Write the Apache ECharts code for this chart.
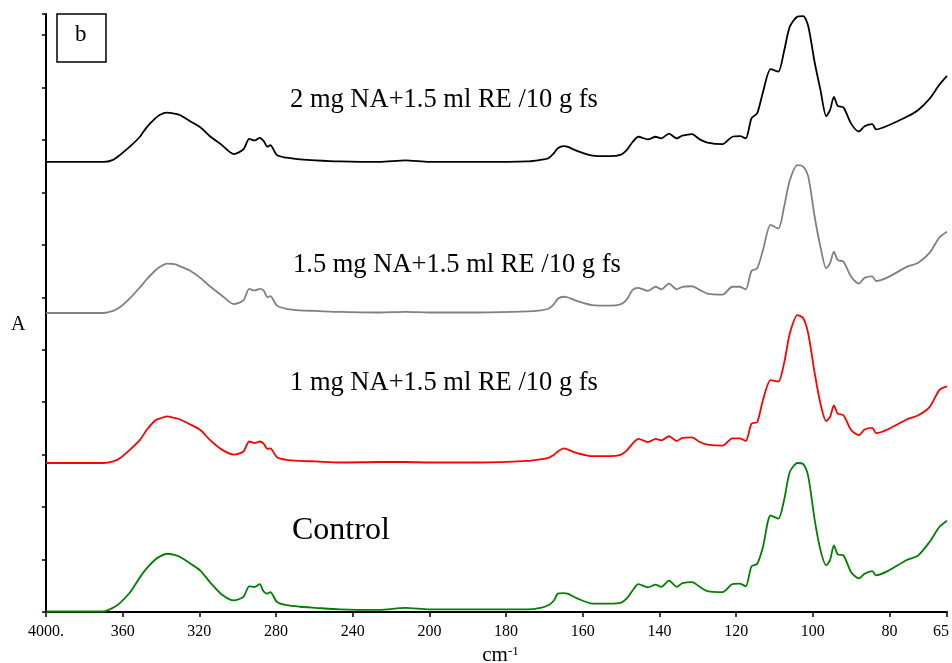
<!DOCTYPE html>
<html>
<head>
<meta charset="utf-8">
<title>FTIR b</title>
<script src="https://cdn.jsdelivr.net/npm/echarts@6/dist/echarts.min.js"></script>
<style>
	html, body { margin: 0; padding: 0; background: #fff; }
	#chart { width: 952px; height: 663px; }
</style>
</head>
<body>
<div id="chart"></div>
<script>
	// wavenumbers (cm-1), shared by all four spectra
	var wavenumbers = [4000, 3700, 3650, 3615, 3560, 3510, 3475, 3430, 3405, 3370,
		3330, 3300, 3250, 3195, 3145, 3085, 3020, 2970, 2940, 2910,
		2885, 2865, 2845, 2830, 2795, 2745, 2675, 2595, 2465, 2260,
		2125, 2000, 1870, 1745, 1710, 1690, 1675, 1665, 1650, 1640,
		1615, 1575, 1530, 1500, 1485, 1470, 1455, 1430, 1410, 1395,
		1375, 1355, 1340, 1315, 1295, 1275, 1235, 1210, 1190, 1175,
		1160, 1145, 1130, 1110, 1090, 1075, 1060, 1040, 1025, 1012,
		995, 980, 965, 955, 945, 935, 920, 900, 880, 865,
		845, 835, 805, 755, 725, 695, 670, 650];

	// 2 mg NA+1.5 ml RE /10 g fs (black)
	var abs2mg = [0.858, 0.858, 0.862, 0.871, 0.888, 0.906, 0.924, 0.941, 0.948, 0.952,
		0.950, 0.947, 0.936, 0.924, 0.907, 0.891, 0.873, 0.882, 0.902, 0.899,
		0.904, 0.898, 0.887, 0.890, 0.871, 0.866, 0.863, 0.861, 0.859, 0.858,
		0.861, 0.858, 0.858, 0.859, 0.862, 0.865, 0.875, 0.884, 0.888, 0.887,
		0.879, 0.870, 0.869, 0.872, 0.881, 0.896, 0.906, 0.901, 0.906, 0.903,
		0.912, 0.903, 0.908, 0.911, 0.901, 0.895, 0.892, 0.906, 0.907, 0.903,
		0.941, 0.951, 0.991, 1.035, 1.030, 1.069, 1.116, 1.135, 1.136, 1.117,
		1.047, 0.995, 0.945, 0.957, 0.982, 0.965, 0.962, 0.931, 0.916, 0.926,
		0.930, 0.920, 0.927, 0.944, 0.957, 0.979, 1.005, 1.022];

	// 1.5 mg NA+1.5 ml RE /10 g fs (grey)
	var abs15mg = [0.570, 0.570, 0.574, 0.581, 0.599, 0.619, 0.634, 0.651, 0.658, 0.664,
		0.663, 0.659, 0.651, 0.637, 0.621, 0.604, 0.587, 0.594, 0.616, 0.613,
		0.616, 0.613, 0.600, 0.602, 0.584, 0.578, 0.575, 0.574, 0.572, 0.571,
		0.572, 0.571, 0.571, 0.573, 0.575, 0.578, 0.587, 0.597, 0.601, 0.600,
		0.593, 0.585, 0.584, 0.587, 0.596, 0.614, 0.618, 0.612, 0.620, 0.615,
		0.626, 0.615, 0.620, 0.621, 0.614, 0.607, 0.605, 0.620, 0.620, 0.615,
		0.650, 0.655, 0.690, 0.738, 0.731, 0.772, 0.823, 0.852, 0.849, 0.831,
		0.753, 0.696, 0.655, 0.665, 0.687, 0.671, 0.668, 0.639, 0.626, 0.637,
		0.640, 0.631, 0.638, 0.658, 0.666, 0.685, 0.714, 0.725];

	// 1 mg NA+1.5 ml RE /10 g fs (red)
	var abs1mg = [0.284, 0.284, 0.287, 0.293, 0.310, 0.328, 0.347, 0.365, 0.369, 0.373,
		0.370, 0.367, 0.358, 0.347, 0.328, 0.310, 0.300, 0.306, 0.325, 0.322,
		0.325, 0.321, 0.311, 0.312, 0.295, 0.290, 0.288, 0.287, 0.285, 0.286,
		0.286, 0.285, 0.285, 0.288, 0.291, 0.294, 0.300, 0.306, 0.312, 0.310,
		0.303, 0.297, 0.297, 0.300, 0.308, 0.321, 0.330, 0.324, 0.330, 0.327,
		0.335, 0.326, 0.332, 0.333, 0.324, 0.319, 0.317, 0.331, 0.331, 0.326,
		0.359, 0.362, 0.404, 0.442, 0.439, 0.474, 0.531, 0.566, 0.560, 0.531,
		0.455, 0.397, 0.364, 0.372, 0.394, 0.378, 0.375, 0.347, 0.337, 0.348,
		0.351, 0.341, 0.348, 0.367, 0.375, 0.391, 0.423, 0.430];

	// Control (green)
	var absControl = [0.001, 0.001, 0.008, 0.017, 0.038, 0.066, 0.083, 0.100, 0.106, 0.111,
		0.109, 0.105, 0.093, 0.079, 0.057, 0.034, 0.022, 0.029, 0.049, 0.048,
		0.053, 0.039, 0.035, 0.038, 0.019, 0.013, 0.010, 0.008, 0.005, 0.004,
		0.008, 0.005, 0.005, 0.005, 0.008, 0.013, 0.022, 0.035, 0.036, 0.035,
		0.026, 0.016, 0.016, 0.018, 0.026, 0.041, 0.053, 0.047, 0.052, 0.048,
		0.060, 0.048, 0.055, 0.057, 0.048, 0.040, 0.038, 0.053, 0.054, 0.049,
		0.087, 0.092, 0.124, 0.184, 0.178, 0.213, 0.267, 0.284, 0.282, 0.259,
		0.175, 0.118, 0.089, 0.099, 0.127, 0.110, 0.108, 0.076, 0.064, 0.073,
		0.078, 0.070, 0.078, 0.099, 0.108, 0.134, 0.162, 0.174];

	// x axis ticks (the instrument scale halves below 2000)
	var tickWavenumbers = [4000, 3600, 3200, 2800, 2400, 2000, 1800, 1600, 1400, 1200, 1000, 800, 650];
	var tickLabels = ['4000.', '360', '320', '280', '240', '200', '180', '160', '140', '120', '100', '80', '65'];

	var seriesNames = ['2 mg NA+1.5 ml RE /10 g fs', '1.5 mg NA+1.5 ml RE /10 g fs', '1 mg NA+1.5 ml RE /10 g fs', 'Control'];
	var seriesColors = ['#000000', '#808080', '#ff0000', '#008000'];

	var serif = '"Liberation Serif", "DejaVu Serif", serif';

	// 4000-2000 : 400 per step, 2000-650 : 200 per step
	function toAxis(w) {
		return w >= 2000 ? (4000 - w) / 400 : 5 + (2000 - w) / 200;
	}

	function pairs(values) {
		var out = [];
		wavenumbers.forEach(function(w, i) {
			out.push([toAxis(w), values[i]]);
		});
		return out;
	}

	var allValues = [abs2mg, abs15mg, abs1mg, absControl];
	var series = allValues.map(function(vals, k) {
		return {
			name: seriesNames[k],
			type: 'line',
			data: pairs(vals),
			showSymbol: false,
			smooth: 0.25,
			lineStyle: { color: seriesColors[k], width: 1.8 },
			itemStyle: { color: seriesColors[k] },
			z: 4 - k
		};
	});

	var chart = echarts.init(document.getElementById('chart'), null, { renderer: 'canvas' });

	var option = {
		animation: false,
		backgroundColor: '#ffffff',
		grid: { left: 46, right: 5, top: 14, bottom: 51, outerBoundsMode: 'none' },
		xAxis: {
			type: 'value',
			min: 0,
			max: toAxis(650),
			interval: 1,
			axisLine: { show: true, lineStyle: { color: '#000', width: 2 } },
			axisTick: { show: true, length: 5, lineStyle: { color: '#000', width: 1.5 } },
			splitLine: { show: false },
			axisLabel: {
				color: '#000',
				fontFamily: serif,
				fontSize: 16,
				margin: 12,
				showMinLabel: true,
				showMaxLabel: true,
				formatter: function(v) {
					for (var i = 0; i < tickWavenumbers.length; i++) {
						if (Math.abs(toAxis(tickWavenumbers[i]) - v) < 1e-6) {
							return i === tickWavenumbers.length - 1 ? '{last|' + tickLabels[i] + '}' : tickLabels[i];
						}
					}
					return '';
				},
				rich: {
					last: { fontFamily: serif, fontSize: 16, color: '#000', padding: [0, 12, 0, 0] }
				}
			},
			name: '{a|cm}{s|-1}',
			nameLocation: 'middle',
			nameGap: 30,
			nameTextStyle: {
				rich: {
					a: { fontFamily: serif, fontSize: 21, color: '#000', padding: [0, 0, 0, 8] },
					s: { fontFamily: serif, fontSize: 13, color: '#000', verticalAlign: 'top' }
				}
			}
		},
		yAxis: {
			type: 'value',
			min: 0,
			max: 1.14,
			interval: 0.1,
			axisLine: { show: true, lineStyle: { color: '#000', width: 2 } },
			axisTick: { show: true, length: 4, lineStyle: { color: '#000', width: 1.5 } },
			axisLabel: { show: false },
			splitLine: { show: false }
		},
		graphic: [
			{ type: 'text', left: 11, top: 315, style: { text: 'A', font: '20px ' + serif, fill: '#000' } },
			{ type: 'rect', shape: { x: 57, y: 14, width: 49, height: 48 }, style: { fill: '#fff', stroke: '#000', lineWidth: 1.5 } },
			{ type: 'text', left: 75, top: 23, style: { text: 'b', font: '23px ' + serif, fill: '#000' } },
			{ type: 'text', left: 290, top: 87, style: { text: seriesNames[0], font: '26.5px ' + serif, fill: '#000' } },
			{ type: 'text', left: 293, top: 252, style: { text: seriesNames[1], font: '26.5px ' + serif, fill: '#000' } },
			{ type: 'text', left: 290, top: 370, style: { text: seriesNames[2], font: '26.5px ' + serif, fill: '#000' } },
			{ type: 'text', left: 292, top: 515, style: { text: seriesNames[3], font: '32px ' + serif, fill: '#000' } }
		],
		series: series
	};

	chart.setOption(option);
</script>
</body>
</html>
